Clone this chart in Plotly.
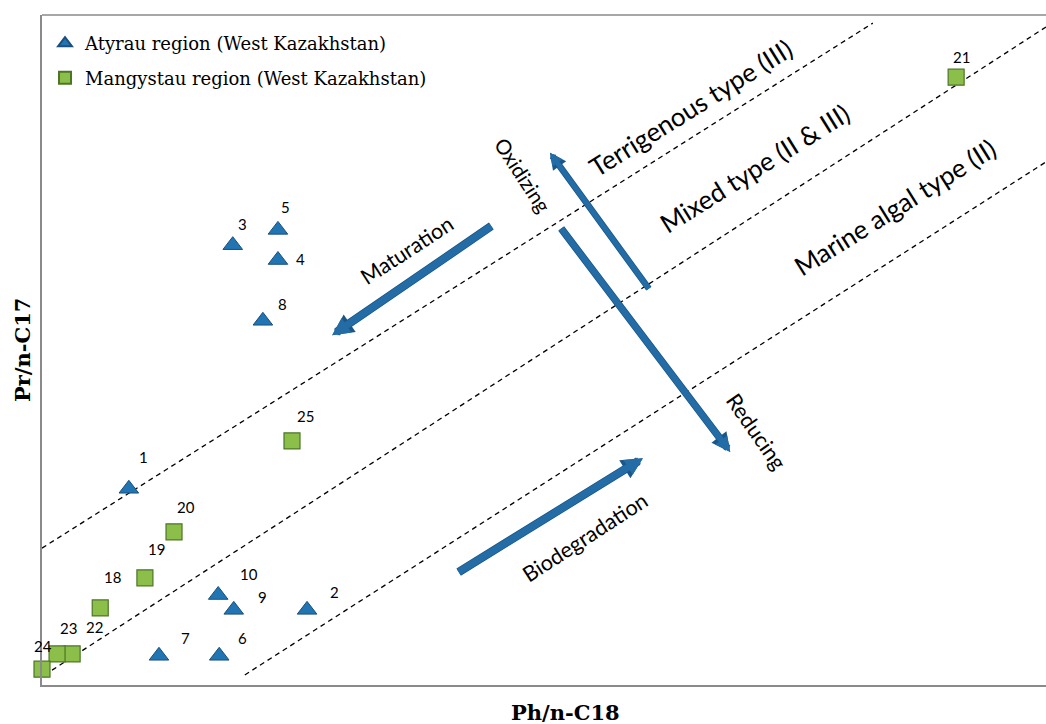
import plotly.graph_objects as go

# Atyrau region samples (triangles)
atyrau_ids = ["1", "2", "3", "4", "5", "6", "7", "8", "9", "10"]
atyrau_ph = [0.173, 0.528, 0.380, 0.470, 0.470, 0.353, 0.233, 0.440, 0.382, 0.351]
atyrau_pr = [0.410, 0.157, 0.919, 0.888, 0.951, 0.061, 0.061, 0.761, 0.157, 0.188]

# Mangystau region samples (squares)
mang_ids = ["18", "19", "20", "21", "22", "23", "24", "25"]
mang_ph = [0.116, 0.205, 0.263, 1.821, 0.060, 0.030, 0.000, 0.498]
mang_pr = [0.161, 0.224, 0.320, 1.270, 0.065, 0.065, 0.033, 0.510]

# label offsets in pixels (right, up)
atyrau_lbl_shift = [(15, 32), (27, 18), (10, 21), (23, 1), (8, 23),
                    (23, 18), (27, 18), (20, 17), (29, 13), (31, 21)]
mang_lbl_shift = [(12, 31), (12, 29), (12, 25), (5, 20),
                  (22, 27), (11, 26), (1, 23), (13, 25)]

# boundaries between kerogen-type fields: (x0, y0, x1, y1)
boundaries = [(0.0, 0.286, 1.655, 1.383),
              (0.020, 0.031, 2.0, 1.375),
              (0.404, 0.021, 2.0, 1.093)]

# process arrows: tail(x, y), head(x, y), width
arrows = [((0.898, 0.961), (0.578, 0.731), 7),   # maturation
          ((0.827, 0.234), (1.197, 0.474), 7),   # biodegradation
          ((1.211, 0.825), (1.012, 1.112), 5),   # oxidizing
          ((1.032, 0.957), (1.371, 0.487), 6)]   # reducing

# field and process captions: text, x, y, angle, size
captions = [("Terrigenous type (III)", 1.291, 1.206, -32, 26),
            ("Mixed type (II &amp; III)", 1.420, 1.080, -32, 26),
            ("Marine algal type (II)", 1.699, 0.999, -32, 26),
            ("Maturation", 0.727, 0.909, -33, 21.5),
            ("Biodegradation", 1.082, 0.309, -33, 21.5),
            ("Oxidizing", 0.958, 1.066, 57, 20.5),
            ("Reducing", 1.424, 0.529, 55, 21.5)]

ARROW_BLUE = "#236CA6"
ARROW_EDGE = "#1A5788"
TRI_FILL = "#2175B3"
TRI_LINE = "#1B4F7C"
SQ_FILL = "#8CBF4A"
SQ_LINE = "#4C7526"
SANS = "Lato, 'Open Sans', sans-serif"
SERIF = "'DejaVu Serif', serif"

fig = go.Figure()

for x0, y0, x1, y1 in boundaries:
    fig.add_trace(go.Scatter(
        x=[x0, x1], y=[y0, y1], mode="lines", showlegend=False,
        hoverinfo="skip",
        line=dict(color="black", width=1.3, dash="5px,4px")))

fig.add_trace(go.Scatter(
    x=atyrau_ph, y=atyrau_pr, mode="markers", cliponaxis=False,
    name="Atyrau region (West Kazakhstan)", legendgroup="a",
    marker=dict(symbol="triangle-up", size=17, color=TRI_FILL,
                line=dict(color=TRI_LINE, width=1))))

fig.add_trace(go.Scatter(
    x=mang_ph, y=mang_pr, mode="markers", cliponaxis=False,
    name="Mangystau region (West Kazakhstan)", legendgroup="m",
    marker=dict(symbol="square", size=16, color=SQ_FILL,
                line=dict(color=SQ_LINE, width=1.2))))

annotations = []
for ids, xs, ys, shifts in ((atyrau_ids, atyrau_ph, atyrau_pr, atyrau_lbl_shift),
                            (mang_ids, mang_ph, mang_pr, mang_lbl_shift)):
    for t, x, y, (dx, dy) in zip(ids, xs, ys, shifts):
        annotations.append(dict(
            x=x, y=y, xref="x", yref="y", text=t, showarrow=False,
            xshift=dx, yshift=dy, font=dict(family=SANS, size=15, color="black")))

for (tx, ty), (hx, hy), w in arrows:
    for color, ww in ((ARROW_EDGE, w + 1.5), (ARROW_BLUE, w)):
        annotations.append(dict(
            x=hx, y=hy, ax=tx, ay=ty, xref="x", yref="y", axref="x", ayref="y",
            text="", showarrow=True, arrowhead=2, arrowsize=0.5, arrowwidth=ww,
            arrowcolor=color, standoff=0, startstandoff=0))

for text, x, y, ang, size in captions:
    annotations.append(dict(
        x=x, y=y, xref="x", yref="y", text=text, showarrow=False,
        textangle=ang, font=dict(family=SANS, size=size, color="black")))

annotations.append(dict(
    x=0.521, y=0, xref="paper", yref="paper", yanchor="middle", yshift=-27,
    text="<b>Ph/n-C18</b>", showarrow=False,
    font=dict(family=SERIF, size=21, color="black")))
annotations.append(dict(
    x=0, y=0.5, xref="paper", yref="paper", xanchor="center", xshift=-20,
    text="<b>Pr/n-C17</b>", showarrow=False, textangle=-90,
    font=dict(family=SERIF, size=21, color="black")))

fig.update_layout(
    width=1046, height=724,
    margin=dict(l=42, r=0, t=15, b=39),
    paper_bgcolor="white", plot_bgcolor="white",
    annotations=annotations,
    shapes=[dict(type="line", xref="paper", yref="paper", x0=0, x1=1,
                 y0=1, y1=1, line=dict(color="#8A8A8A", width=1.5))],
    legend=dict(x=0.003, y=0.985, xanchor="left", yanchor="top",
                bgcolor="rgba(0,0,0,0)", traceorder="grouped",
                tracegroupgap=8, itemsizing="constant",
                font=dict(family=SERIF, size=18, color="black")),
    xaxis=dict(range=[0, 2.0], showgrid=False, zeroline=False,
               showticklabels=False, ticks="", showline=True,
               linecolor="#8A8A8A", linewidth=2),
    yaxis=dict(range=[0, 1.4], showgrid=False, zeroline=False,
               showticklabels=False, ticks="", showline=True,
               linecolor="#8A8A8A", linewidth=2),
)

fig.write_html("out.html")
